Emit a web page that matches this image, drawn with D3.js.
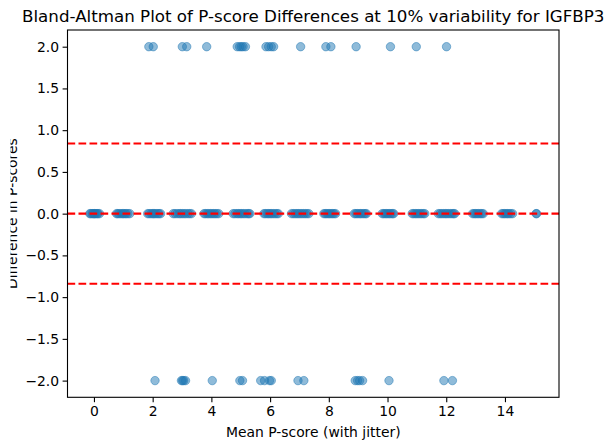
<!DOCTYPE html>
<html>
<head>
<meta charset="utf-8">
<script src="https://cdn.jsdelivr.net/npm/d3@7"></script>
<style>
  html, body { margin: 0; padding: 0; background: #fff; }
  svg { display: block; }
  text { font-family: "DejaVu Sans", sans-serif; fill: #000; }
</style>
</head>
<body>
<script>
// Mean P-scores (with jitter) for pairs whose difference is +2
const upperMeans = [1.87, 2.02, 3.01, 3.16, 3.84, 4.88, 4.96, 5.02, 5.08, 5.16,
  5.86, 5.95, 6.04, 6.12, 7.04, 7.90, 8.07, 8.93, 10.10, 10.98, 12.01];

// Mean P-scores (with jitter) for pairs whose difference is -2
const lowerMeans = [2.08, 2.98, 3.02, 3.06, 3.12, 4.03, 4.97, 5.06, 5.68, 5.81,
  5.98, 6.04, 6.95, 7.15, 8.90, 8.98, 9.05, 9.15, 10.05, 11.92, 12.21];

// Mean P-scores (with jitter) for pairs with no difference
const zeroMeans = [
  -0.14, -0.11, -0.06, -0.03, 0.01, 0.03, 0.07, 0.11, 0.14, 0.19,
  0.77, 0.81, 0.86, 0.92, 0.97, 1.01, 1.06, 1.10, 1.16, 1.22,
  1.83, 1.88, 1.94, 1.99, 2.03, 2.07, 2.12, 2.18, 2.22, 2.27,
  2.70, 2.76, 2.83, 2.90, 2.95, 3.01, 3.07, 3.13, 3.20, 3.26, 3.32,
  3.75, 3.80, 3.86, 3.91, 3.97, 4.02, 4.08, 4.13, 4.19, 4.25,
  4.74, 4.80, 4.87, 4.92, 4.98, 5.03, 5.09, 5.15, 5.22, 5.27, 5.31,
  5.79, 5.84, 5.90, 5.95, 6.00, 6.05, 6.11, 6.17, 6.23, 6.28,
  6.73, 6.79, 6.85, 6.91, 6.96, 7.02, 7.08, 7.14, 7.20, 7.26, 7.32,
  7.83, 7.88, 7.93, 7.98, 8.03, 8.08, 8.13, 8.18, 8.23,
  8.87, 8.92, 8.97, 9.03, 9.08, 9.13, 9.19, 9.24, 9.28,
  9.82, 9.87, 9.92, 9.97, 10.02, 10.07, 10.12, 10.17, 10.21,
  10.84, 10.89, 10.95, 11.00, 11.05, 11.11, 11.16, 11.22, 11.27,
  11.73, 11.79, 11.85, 11.91, 11.97, 12.02, 12.08, 12.14, 12.20, 12.25, 12.29,
  12.90, 12.95, 13.00, 13.05, 13.10, 13.16, 13.21, 13.26,
  13.89, 13.94, 13.99, 14.04, 14.09, 14.14, 14.20, 14.26,
  15.06, 15.08
];

// Mean difference and 95% limits of agreement
const meanDiff = 0.0;
const upperLoA = 0.84;
const lowerLoA = -0.84;

const xTicks = [0, 2, 4, 6, 8, 10, 12, 14];
const yTicks = [2.0, 1.5, 1.0, 0.5, 0.0, -0.5, -1.0, -1.5, -2.0];

const titleText = "Bland-Altman Plot of P-score Differences at 10% variability for IGFBP3";
const xLabelText = "Mean P-score (with jitter)";
const yLabelText = "Difference in P-scores";

const W = 613, H = 446;
const margin = { left: 67.5, top: 30, right: 54, bottom: 48.7 };
const iw = W - margin.left - margin.right;
const ih = H - margin.top - margin.bottom;

const points = [
  ...upperMeans.map(m => ({ m, d: 2 })),
  ...zeroMeans.map(m => ({ m, d: 0 })),
  ...lowerMeans.map(m => ({ m, d: -2 }))
];

// 5% padding on both axes
function padded(ext) {
  const p = (ext[1] - ext[0]) * 0.05;
  return [ext[0] - p, ext[1] + p];
}
const x = d3.scaleLinear().domain(padded(d3.extent(points, p => p.m))).range([0, iw]);
const y = d3.scaleLinear().domain(padded(d3.extent(points, p => p.d))).range([ih, 0]);

const svg = d3.select("body").append("svg").attr("width", W).attr("height", H);

// the y label sits partly outside the page edge
svg.append("defs").append("clipPath").attr("id", "ylabel-clip")
  .append("rect").attr("x", 10.5).attr("y", 0).attr("width", 40).attr("height", H);

const g = svg.append("g").attr("transform", `translate(${margin.left},${margin.top})`);

// scatter
g.append("g").selectAll("circle").data(points).join("circle")
  .attr("cx", p => x(p.m))
  .attr("cy", p => y(p.d))
  .attr("r", 4.2)
  .attr("fill", "#1f77b4").attr("fill-opacity", 0.5)
  .attr("stroke", "#1f77b4").attr("stroke-opacity", 0.5).attr("stroke-width", 1);

// reference lines
g.append("g").selectAll("line").data([meanDiff, upperLoA, lowerLoA]).join("line")
  .attr("x1", 0).attr("x2", iw)
  .attr("y1", v => y(v)).attr("y2", v => y(v))
  .attr("stroke", "#ff0000").attr("stroke-width", 2.1)
  .attr("stroke-dasharray", "7.7,3.3");

const fmtY = v => d3.format(".1f")(v).replace("-", "\u2212");

const xAxis = g.append("g").attr("transform", `translate(0,${ih})`)
  .call(d3.axisBottom(x).tickValues(xTicks).tickFormat(d3.format("d"))
    .tickSizeInner(4.9).tickSizeOuter(0).tickPadding(3.5));
const yAxis = g.append("g")
  .call(d3.axisLeft(y).tickValues(yTicks).tickFormat(fmtY)
    .tickSizeInner(4.9).tickSizeOuter(0).tickPadding(3.5));

[xAxis, yAxis].forEach(a => {
  a.select(".domain").remove();
  a.selectAll(".tick line").attr("stroke", "#000").attr("stroke-width", 1.1);
  a.selectAll(".tick text").attr("font-family", "DejaVu Sans").attr("font-size", 13.9).attr("fill", "#000");
});

// frame
g.append("rect").attr("x", 0).attr("y", 0).attr("width", iw).attr("height", ih)
  .attr("fill", "none").attr("stroke", "#000").attr("stroke-width", 1.1);

// title and labels
svg.append("text").attr("x", margin.left + iw / 2).attr("y", 21.5)
  .attr("text-anchor", "middle").attr("font-size", 16.7).text(titleText);

svg.append("text").attr("x", margin.left + iw / 2).attr("y", 437)
  .attr("text-anchor", "middle").attr("font-size", 13.9).text(xLabelText);

svg.append("g").attr("clip-path", "url(#ylabel-clip)")
  .append("text")
  .attr("transform", `translate(17,${margin.top + ih / 2}) rotate(-90)`)
  .attr("text-anchor", "middle").attr("font-size", 13.9).text(yLabelText);
</script>
</body>
</html>
